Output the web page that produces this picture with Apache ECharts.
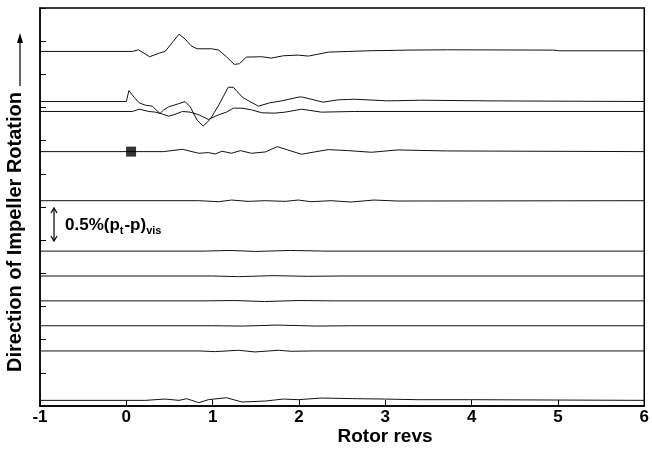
<!DOCTYPE html>
<html>
<head>
<meta charset="utf-8">
<script src="https://cdn.jsdelivr.net/npm/echarts@6.0.0/dist/echarts.min.js"></script>
<style>
  html, body { margin: 0; padding: 0; background: #fff; }
  #chart { width: 652px; height: 452px; }
</style>
</head>
<body>
<div id="chart"></div>
<script>
// rotor revs on x, each trace offset vertically; deviations in axis units (1 unit = 0.5%(pt-p)vis)
const xTicks = [-1, 0, 1, 2, 3, 4, 5, 6];

// baseline of each trace (axis units, bottom of frame = 0)
const baselines = [10.69, 9.18, 8.88, 7.67, 6.19, 4.67, 3.92, 3.17, 2.42, 1.66, 0.17];

// [rev, deviation] per trace, top to bottom
const trace1 = [[-1, 0], [0.07, 0], [0.14, 0.05], [0.27, -0.16], [0.38, -0.05], [0.45, 0], [0.61, 0.52],
  [0.68, 0.38], [0.75, 0.17], [0.82, 0.08], [0.99, 0.08], [1.07, 0.04], [1.16, -0.16], [1.25, -0.39],
  [1.31, -0.37], [1.39, -0.17], [1.57, -0.16], [1.68, -0.2], [1.82, -0.13], [1.99, -0.11], [2.11, -0.14],
  [2.34, -0.02], [2.8, 0.02], [3.26, 0.04], [3.72, 0.05], [4.95, 0.04], [5.02, 0.02], [6, 0.02]];
const trace2 = [[-1, 0], [0.0, 0], [0.03, 0.33], [0.09, 0.13], [0.15, -0.04], [0.22, -0.11], [0.3, -0.14],
  [0.39, -0.36], [0.43, -0.26], [0.49, -0.16], [0.59, -0.08], [0.68, 0], [0.74, -0.16], [0.82, -0.56],
  [0.89, -0.74], [0.97, -0.54], [1.07, -0.11], [1.18, 0.43], [1.24, 0.43], [1.34, 0.14], [1.43, 0],
  [1.53, -0.14], [1.66, -0.04], [1.8, 0.02], [1.99, 0.13], [2.03, 0.14], [2.14, 0.07], [2.28, -0.02],
  [2.45, 0.05], [2.64, 0.07], [3.03, 0.02], [3.41, 0.04], [4.18, 0.02], [6, 0]];
const trace3 = [[-1, 0], [0.07, 0], [0.15, 0.07], [0.26, 0], [0.34, -0.02], [0.42, -0.08], [0.49, -0.14],
  [0.55, -0.1], [0.65, 0], [0.74, -0.02], [0.84, -0.1], [0.95, -0.24], [1.07, -0.1], [1.16, -0.02],
  [1.24, 0.1], [1.34, 0.1], [1.45, 0.05], [1.57, -0.04], [1.72, -0.05], [1.84, -0.02], [1.99, 0.05],
  [2.03, 0.07], [2.26, -0.02], [2.64, 0], [6, 0]];
const trace4 = [[-1, 0], [0.43, 0], [0.45, 0.03], [0.65, 0.07], [0.84, -0.05], [0.95, -0.03], [1.03, -0.07],
  [1.11, 0.01], [1.22, -0.05], [1.32, 0.03], [1.45, -0.05], [1.61, -0.01], [1.75, 0.15], [1.87, 0.05],
  [2.03, -0.08], [2.18, -0.01], [2.34, 0.06], [2.57, 0.03], [2.84, -0.02], [3.14, 0.05], [3.72, 0.02], [6, 0]];
const trace5 = [[-1, 0], [0.84, 0], [1.07, -0.03], [1.22, 0.02], [1.41, -0.02], [1.61, 0], [1.84, -0.02],
  [1.99, 0.02], [2.14, -0.03], [2.37, 0], [2.6, -0.04], [2.87, 0.02], [3.14, -0.01], [6, 0]];
const trace6 = [[-1, 0], [0.9, 0], [1.2, 0.02], [1.5, -0.01], [1.9, 0.02], [2.3, 0], [6, 0]];
const trace7 = [[-1, 0], [1.0, 0], [1.3, -0.02], [1.7, 0.01], [2.1, -0.01], [2.5, 0], [6, 0]];
const trace8 = [[-1, 0], [0.9, 0], [1.25, 0.01], [1.6, -0.02], [2.0, 0.01], [2.4, 0], [6, 0]];
const trace9 = [[-1, 0], [1.0, 0], [1.35, -0.01], [1.75, 0.02], [2.2, -0.01], [2.6, 0], [6, 0]];
const trace10 = [[-1, 0], [0.84, 0], [1.03, -0.02], [1.3, 0.02], [1.49, -0.03], [1.76, 0.02], [1.91, -0.01],
  [2.18, 0], [6, 0]];
const trace11 = [[-1, 0], [0.22, 0], [0.45, 0.04], [0.61, 0], [0.7, 0.05], [0.84, -0.07], [0.95, 0.02],
  [1.16, 0.08], [1.34, -0.05], [1.61, -0.02], [1.82, 0.04], [1.99, 0.02], [2.26, 0.07], [2.68, 0.05],
  [2.99, 0.04], [3.37, 0.02], [3.99, 0.02], [6, 0]];
const traces = [trace1, trace2, trace3, trace4, trace5, trace6, trace7, trace8, trace9, trace10, trace11];

// reference marker on the fourth trace
const markerRev = [0.055];
const markerTrace = 3;

const FONT = '"Liberation Sans", Arial, Helvetica, sans-serif';

const chart = echarts.init(document.getElementById('chart'), null, { renderer: 'canvas' });

const lineSeries = traces.map((tr, i) => ({
  type: 'line',
  data: tr.map(([x, d]) => [x, baselines[i] + d]),
  showSymbol: false,
  symbol: 'none',
  silent: true,
  lineStyle: { color: '#111', width: 1 },
  z: 3,
}));

chart.setOption({
  animation: false,
  grid: {
    left: 40, right: 4, top: 8, bottom: 46,
    show: true, borderColor: '#000', borderWidth: 1.5,
  },
  xAxis: {
    type: 'value',
    min: -1, max: 6, interval: 1,
    axisLine: { show: true, onZero: false, lineStyle: { color: '#000', width: 1.5 } },
    axisTick: { show: true, inside: true, length: 6, lineStyle: { color: '#000', width: 1 } },
    axisLabel: {
      fontFamily: FONT, fontWeight: 'bold', fontSize: 17, color: '#000', margin: 3,
      formatter: (v) => (xTicks.includes(v) ? String(v) : ''),
    },
    splitLine: { show: false },
  },
  yAxis: {
    type: 'value',
    min: 0, max: 12, interval: 1,
    axisLine: { show: true, onZero: false, lineStyle: { color: '#000', width: 1.5 } },
    axisTick: { show: true, inside: true, length: 6, lineStyle: { color: '#000', width: 1 } },
    axisLabel: { show: false },
    splitLine: { show: false },
  },
  series: [
    ...lineSeries,
    {
      type: 'scatter',
      data: markerRev.map((x) => [x, baselines[markerTrace]]),
      symbol: 'rect',
      symbolSize: 10,
      itemStyle: { color: '#000' },
      silent: true,
      z: 5,
    },
  ],
  graphic: [
    // x axis title
    {
      type: 'text',
      x: 385, y: 437,
      style: {
        text: 'Rotor revs',
        fontFamily: FONT, fontWeight: 'bold', fontSize: 19, fill: '#000',
        align: 'center', verticalAlign: 'middle',
      },
    },
    // y axis title with arrow
    {
      type: 'text',
      x: 15, y: 232,
      rotation: Math.PI / 2,
      style: {
        text: 'Direction of Impeller Rotation',
        fontFamily: FONT, fontWeight: 'bold', fontSize: 20, fill: '#000',
        align: 'center', verticalAlign: 'middle',
      },
    },
    {
      type: 'line',
      shape: { x1: 20, y1: 86, x2: 20, y2: 40 },
      style: { stroke: '#000', lineWidth: 1.2 },
    },
    {
      type: 'polygon',
      shape: { points: [[20, 33], [17, 43], [23, 43]] },
      style: { fill: '#000' },
    },
    // scale bar
    {
      type: 'line',
      shape: { x1: 54, y1: 209, x2: 54, y2: 240 },
      style: { stroke: '#000', lineWidth: 1.2 },
    },
    {
      type: 'polyline',
      shape: { points: [[51, 213], [54, 208], [57, 213]] },
      style: { stroke: '#000', lineWidth: 1.2, fill: null },
    },
    {
      type: 'polyline',
      shape: { points: [[51, 236], [54, 241], [57, 236]] },
      style: { stroke: '#000', lineWidth: 1.2, fill: null },
    },
    {
      type: 'text',
      x: 65, y: 225,
      style: {
        text: '{b|0.5%(p}{s|t}{b|-p)}{s|vis}',
        verticalAlign: 'middle',
        rich: {
          b: { fontFamily: FONT, fontWeight: 'bold', fontSize: 17, fill: '#000', lineHeight: 22 },
          s: { fontFamily: FONT, fontWeight: 'bold', fontSize: 11, fill: '#000', lineHeight: 22,
               verticalAlign: 'bottom', padding: [0, 1, 0, 0] },
        },
      },
    },
  ],
});
</script>
</body>
</html>
